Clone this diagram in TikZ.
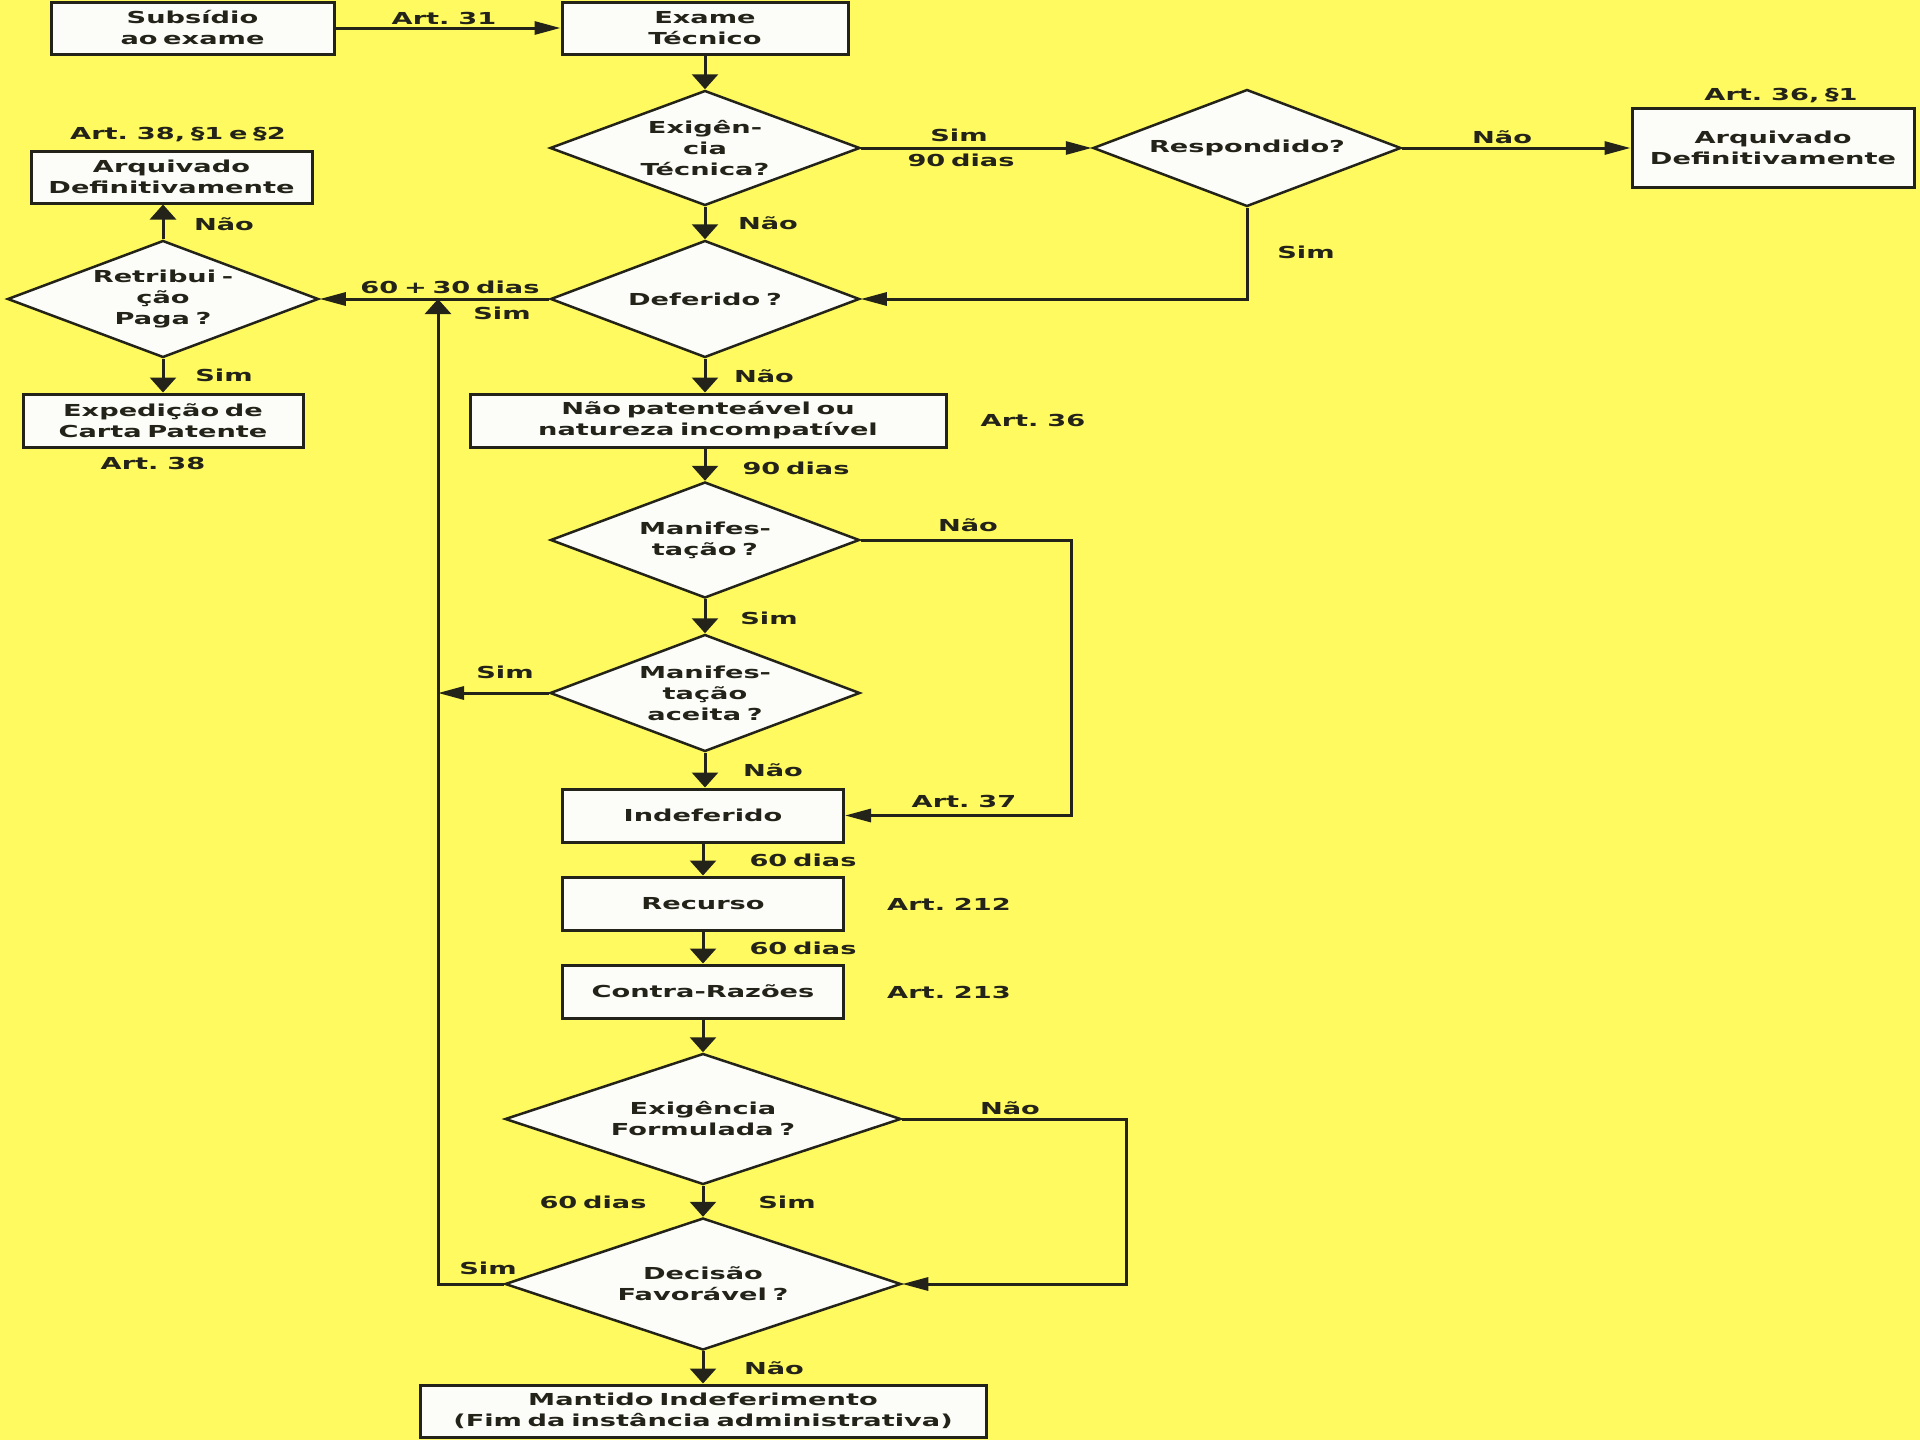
\documentclass[tikz,border=0pt]{standalone}
\usepackage{fontspec}
\setmainfont{DejaVu Sans}[FakeStretch=1.65,WordSpace=0.6]
\usetikzlibrary{shapes.geometric,arrows.meta}
\definecolor{bg}{RGB}{255,250,95}
\definecolor{ink}{RGB}{35,35,25}
\definecolor{boxfill}{RGB}{252,252,248}
\begin{document}
\begin{tikzpicture}[x=1pt,y=-1pt,
  every node/.style={font=\fontsize{16.5}{21}\selectfont\bfseries, text=ink, align=center},
  box/.style={draw=ink, line width=3pt, fill=boxfill, rectangle, inner sep=0pt},
  dia/.style={draw=ink, line width=2.5pt, fill=boxfill, diamond, inner sep=0pt},
  lab/.style={inner sep=0pt},
  con/.style={draw=ink, line width=3pt},
  va/.style={con, -{Triangle[length=15pt,width=26pt]}},
  ha/.style={con, -{Triangle[length=26pt,width=13pt]}},
]
\path[use as bounding box, fill=bg] (0,0) rectangle (1920,1440);

% boxes
\node[box, minimum width=283pt, minimum height=52pt] (sub) at (192.5,28) {Subsídio\\ao exame};
\node[box, minimum width=286pt, minimum height=52pt] (exame) at (705,28) {Exame\\Técnico};
\node[box, minimum width=281pt, minimum height=52pt] (arqL) at (171.5,177) {Arquivado\\Definitivamente};
\node[box, minimum width=280pt, minimum height=53pt] (exped) at (163,420.5) {Expedição de\\Carta Patente};
\node[box, minimum width=476pt, minimum height=53pt] (naopat) at (708,420.5) {Não patenteável ou\\natureza incompatível};
\node[box, minimum width=282pt, minimum height=79pt] (arqR) at (1773,147.5) {Arquivado\\Definitivamente};
\node[box, minimum width=281pt, minimum height=53pt] (indef) at (703,815.5) {Indeferido};
\node[box, minimum width=281pt, minimum height=53pt] (recurso) at (703,903.5) {Recurso};
\node[box, minimum width=281pt, minimum height=53pt] (contra) at (703,991.5) {Contra-Razões};
\node[box, minimum width=566pt, minimum height=52pt] (mantido) at (703,1411) {Mantido Indeferimento\\(Fim da instância administrativa)};

% diamonds
\node[dia, minimum width=310pt, minimum height=115pt, label={center:Exigên-\\cia\\Técnica?}] (exig) at (705,148) {};
\node[dia, minimum width=308pt, minimum height=117pt, label={center:Respondido?}] (resp) at (1247,148) {};
\node[dia, minimum width=311pt, minimum height=117pt, label={center:Retribui -\\ção\\Paga ?}] (retr) at (163,299) {};
\node[dia, minimum width=309pt, minimum height=117pt, label={center:Deferido ?}] (defer) at (705,299) {};
\node[dia, minimum width=309pt, minimum height=116pt, label={center:Manifes-\\tação ?}] (manif) at (705,540) {};
\node[dia, minimum width=310pt, minimum height=117pt, label={center:Manifes-\\tação\\aceita ?}] (manifac) at (705,693) {};
\node[dia, minimum width=396pt, minimum height=131pt, label={center:Exigência\\Formulada ?}] (exform) at (703,1119) {};
\node[dia, minimum width=396pt, minimum height=132pt, label={center:Decisão\\Favorável ?}] (decis) at (703,1284) {};

% helper coordinates
\coordinate (rA) at (1071,540);
\coordinate (rB) at (1126,1119);
\coordinate (lA) at (438,299);

% connectors
\draw[ha] (sub.east) -- (exame.west);
\draw[va] (exame.south) -- (exig.north);
\draw[ha] (exig.east) -- (resp.west);
\draw[ha] (resp.east) -- (resp.east -| arqR.west);
\draw[ha] (resp.south) |- (defer.east);
\draw[va] (exig.south) -- (defer.north);
\draw[ha] (defer.west) -- (retr.east);
\draw[va] (retr.north) -- (retr.north |- arqL.south);
\draw[va] (retr.south) -- (retr.south |- exped.north);
\draw[va] (defer.south) -- (defer.south |- naopat.north);
\draw[va] (manif.north |- naopat.south) -- (manif.north);
\draw[ha] (manif.east) -- (rA) |- (indef.east);
\draw[va] (manif.south) -- (manifac.north);
\draw[ha] (manifac.west) -- (manifac.west -| lA);
\draw[va] (manifac.south) -- (manifac.south |- indef.north);
\draw[va] (indef.south) -- (recurso.north);
\draw[va] (recurso.south) -- (contra.north);
\draw[va] (contra.south) -- (exform.north);
\draw[ha] (exform.east) -- (rB) |- (decis.east);
\draw[va] (exform.south) -- (decis.north);
\draw[va] (decis.west) -| (lA);
\draw[va] (decis.south) -- (mantido.north);

% labels
\node[lab] (t1) at (444,18) {Art. 31};
\node[lab] (t2) at (178,135) {Art. 38, §1 e §2};
\node[lab] (t3) at (224,224) {Não};
\node[lab] (t4) at (450,287) {60 + 30 dias};
\node[lab] (t5) at (502,313) {Sim};
\node[lab] (t6) at (768,223) {Não};
\node[lab] (t7) at (224,375) {Sim};
\node[lab] (t8) at (153,463) {Art. 38};
\node[lab] (t9) at (764,376) {Não};
\node[lab] (t10) at (796,468) {90 dias};
\node[lab] (t11) at (959,135) {Sim};
\node[lab] (t12) at (961,160) {90 dias};
\node[lab] (t13) at (1502,137) {Não};
\node[lab] (t14) at (1781,96) {Art. 36, §1};
\node[lab] (t15) at (1306,252) {Sim};
\node[lab] (t16) at (1033,420) {Art. 36};
\node[lab] (t17) at (968,525) {Não};
\node[lab] (t18) at (769,618) {Sim};
\node[lab] (t19) at (505,672) {Sim};
\node[lab] (t20) at (773,770) {Não};
\node[lab] (t21) at (964,801) {Art. 37};
\node[lab] (t22) at (803,860) {60 dias};
\node[lab] (t23) at (949,904) {Art. 212};
\node[lab] (t24) at (803,948) {60 dias};
\node[lab] (t25) at (949,992) {Art. 213};
\node[lab] (t26) at (1010,1108) {Não};
\node[lab] (t27) at (593,1202) {60 dias};
\node[lab] (t28) at (787,1202) {Sim};
\node[lab] (t29) at (488,1268) {Sim};
\node[lab] (t30) at (774,1368) {Não};
\end{tikzpicture}
\end{document}
